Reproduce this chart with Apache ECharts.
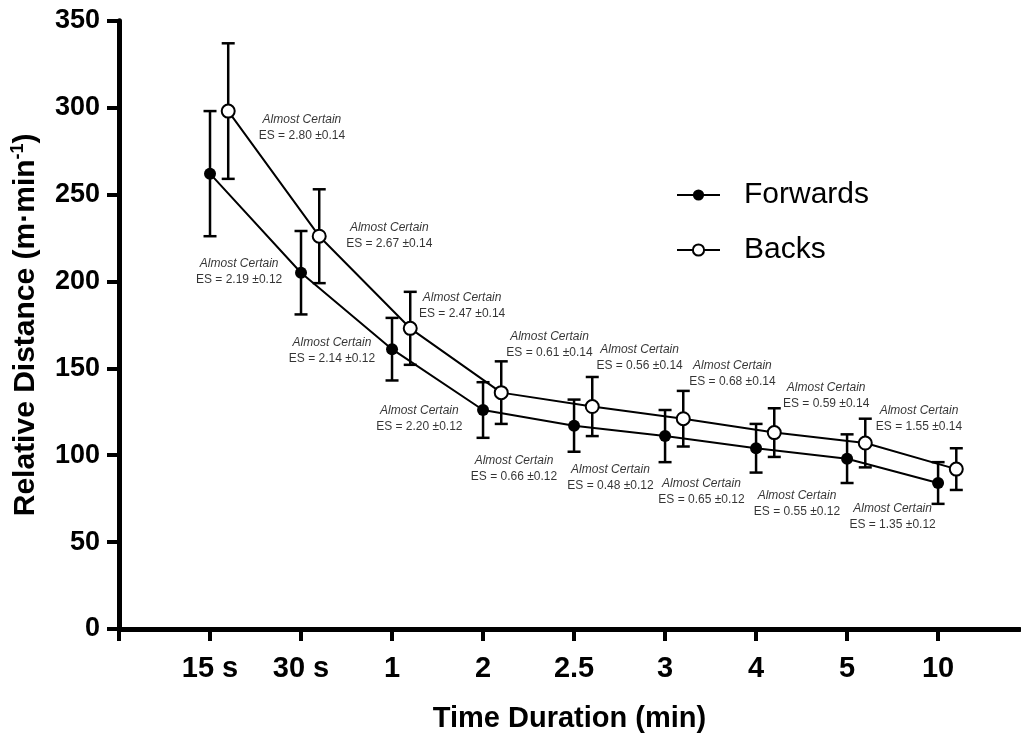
<!DOCTYPE html>
<html>
<head>
<meta charset="utf-8">
<script src="https://cdn.jsdelivr.net/npm/echarts@6/dist/echarts.min.js"></script>
<style>
html,body{margin:0;padding:0;background:#fff;}
#chart{width:1021px;height:738px;}
</style>
</head>
<body>
<div id="chart"></div>
<script>
// ---- data ----
const categories = ['15 s', '30 s', '1', '2', '2.5', '3', '4', '5', '10'];
const forwardsMean = [262, 205, 161, 126, 117, 111, 104, 98, 84];
const forwardsSD   = [36, 24, 18, 16, 15, 15, 14, 14, 12];
const backsMean    = [298, 226, 173, 136, 128, 121, 113, 107, 92];
const backsSD      = [39, 27, 21, 18, 17, 16, 14, 14, 12];
const yTicks = [0, 50, 100, 150, 200, 250, 300, 350];

const backsES    = ['2.80', '2.67', '2.47', '0.61', '0.56', '0.68', '0.59', '1.55'];
const backsCI    = '±0.14';
const forwardsES = ['2.19', '2.14', '2.20', '0.66', '0.48', '0.65', '0.55', '1.35'];
const forwardsCI = '±0.12';
// annotation anchors (in axis data units)
const backsAnnotX    = [2.01, 2.97, 3.77, 4.73, 5.72, 6.74, 7.77, 8.79];
const backsAnnotY    = [288.3, 226.3, 185.8, 163.6, 155.9, 146.9, 134.4, 120.8];
const forwardsAnnotX = [1.32, 2.34, 3.30, 4.34, 5.40, 6.40, 7.45, 8.50];
const forwardsAnnotY = [205.4, 160.0, 120.8, 92.1, 87.2, 78.8, 71.9, 64.7];

// ---- build ----
const FONT = 'Liberation Sans, Arial, Helvetica, sans-serif';
const BACKS_SHIFT = 0.2;
const fwdPts = forwardsMean.map((v, i) => [i + 1, v]);
const bckPts = backsMean.map((v, i) => [i + 1 + BACKS_SHIFT, v]);
const fwdErr = forwardsMean.map((v, i) => [i + 1, v - forwardsSD[i], v + forwardsSD[i]]);
const bckErr = backsMean.map((v, i) => [i + 1 + BACKS_SHIFT, v - backsSD[i], v + backsSD[i]]);

function errRender(params, api) {
  const x = api.value(0);
  const top = api.coord([x, api.value(2)]);
  const bot = api.coord([x, api.value(1)]);
  const hw = 6.5;
  const st = {stroke: '#000', lineWidth: 2.5};
  return {
    type: 'group',
    children: [
      {type: 'line', shape: {x1: top[0], y1: top[1], x2: bot[0], y2: bot[1]}, style: st},
      {type: 'line', shape: {x1: top[0] - hw, y1: top[1], x2: top[0] + hw, y2: top[1]}, style: st},
      {type: 'line', shape: {x1: bot[0] - hw, y1: bot[1], x2: bot[0] + hw, y2: bot[1]}, style: st}
    ]
  };
}

const annotRich = {
  a: {fontFamily: FONT, fontSize: 12, fontStyle: 'italic', color: '#000', lineHeight: 16, align: 'center'},
  b: {fontFamily: FONT, fontSize: 12, color: '#000', lineHeight: 16, align: 'center'}
};
function annotSeries(xs, ys, es, ci) {
  return {
    type: 'scatter',
    symbolSize: 1,
    itemStyle: {color: 'rgba(0,0,0,0)'},
    silent: true,
    z: 5,
    data: xs.map((x, i) => ({value: [x, ys[i]], es: es[i]})),
    label: {
      show: true,
      position: 'inside',
      formatter: p => '{a|Almost Certain}\n{b|ES = ' + p.data.es + ' ' + ci + '}',
      rich: annotRich
    }
  };
}

const chart = echarts.init(document.getElementById('chart'), null, {renderer: 'canvas'});
chart.setOption({
  animation: false,
  backgroundColor: '#fff',
  grid: {left: 119, right: 1, top: 20.7, bottom: 109, containLabel: false, outerBoundsMode: 'none'},
  legend: {
    orient: 'vertical',
    left: 671,
    top: 173,
    itemWidth: 43,
    itemHeight: 14,
    itemGap: 21,
    data: ['Forwards', 'Backs'],
    textStyle: {fontFamily: FONT, fontSize: 30, color: '#000', lineHeight: 34, padding: [0, 0, 0, 19]}
  },
  xAxis: {
    type: 'value',
    min: 0,
    max: 9.9,
    interval: 1,
    splitLine: {show: false},
    axisLine: {show: true, lineStyle: {color: '#000', width: 5}},
    axisTick: {show: true, length: 12, lineStyle: {color: '#000', width: 4},
               customValues: [0, 1, 2, 3, 4, 5, 6, 7, 8, 9]},
    axisLabel: {
      customValues: [1, 2, 3, 4, 5, 6, 7, 8, 9],
      formatter: v => categories[Math.round(v) - 1] || '',
      fontFamily: FONT, fontSize: 29, fontWeight: 'bold', color: '#000', margin: 25
    },
    name: 'Time Duration (min)',
    nameLocation: 'middle',
    nameGap: 75,
    nameTextStyle: {fontFamily: FONT, fontSize: 29, fontWeight: 'bold', color: '#000'}
  },
  yAxis: {
    type: 'value',
    min: yTicks[0],
    max: yTicks[yTicks.length - 1],
    interval: 50,
    splitLine: {show: false},
    axisLine: {show: true, lineStyle: {color: '#000', width: 5}},
    axisTick: {show: true, length: 12, lineStyle: {color: '#000', width: 4}},
    axisLabel: {fontFamily: FONT, fontSize: 27, fontWeight: 'bold', color: '#000', margin: 19},
    name: 'Relative Distance (m·min{sup|-1})',
    nameLocation: 'middle',
    nameGap: 76,
    nameTextStyle: {
      fontFamily: FONT, fontSize: 30, fontWeight: 'bold', color: '#000', lineHeight: 34,
      rich: {sup: {fontFamily: FONT, fontSize: 18, fontWeight: 'bold', color: '#000', lineHeight: 34, verticalAlign: 'top', padding: [0, 0, 14, 0]}}
    }
  },
  series: [
    {type: 'custom', name: 'fErr', renderItem: errRender, data: fwdErr, encode: {x: 0, y: [1, 2]}, z: 2, silent: true},
    {type: 'custom', name: 'bErr', renderItem: errRender, data: bckErr, encode: {x: 0, y: [1, 2]}, z: 2, silent: true},
    {
      type: 'line', name: 'Forwards', data: fwdPts, z: 3,
      symbol: 'circle', symbolSize: 12,
      lineStyle: {color: '#000', width: 2},
      itemStyle: {color: '#000'}
    },
    {
      type: 'line', name: 'Backs', data: bckPts, z: 3,
      symbol: 'emptyCircle', symbolSize: 13,
      lineStyle: {color: '#000', width: 2},
      itemStyle: {color: '#000', borderWidth: 2}
    },
    annotSeries(backsAnnotX, backsAnnotY, backsES, backsCI),
    annotSeries(forwardsAnnotX, forwardsAnnotY, forwardsES, forwardsCI)
  ]
});
</script>
</body>
</html>
